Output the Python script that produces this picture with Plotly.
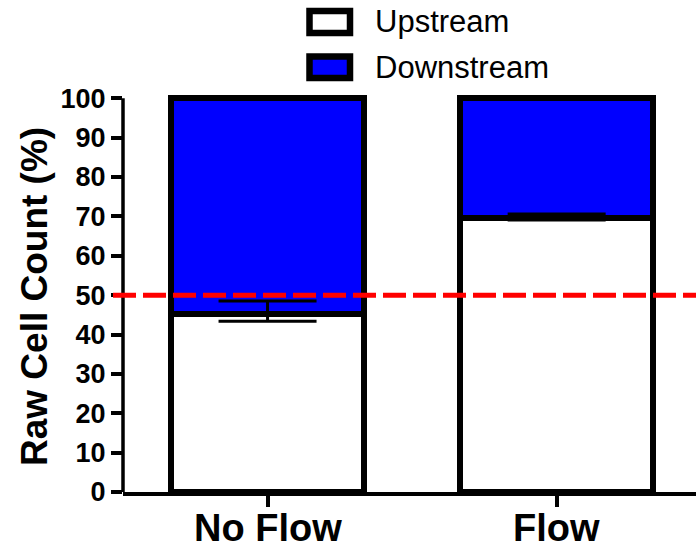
import plotly.graph_objects as go

# Data
conditions = ["No Flow", "Flow"]
upstream = [45.3, 69.5]
downstream = [54.7, 30.5]
upstream_err_plus = [3.2, 1.1]
upstream_err_minus = [1.9, 0.4]
reference_level = 50
y_ticks = [0, 10, 20, 30, 40, 50, 60, 70, 80, 90, 100]

W, H = 696, 553
ML, MR, MT, MB = 123, 0, 92, 61
PW, PH = W - ML - MR, H - MT - MB
FONT = "Liberation Sans, Arial, sans-serif"


def px_x(p):
    return (p - ML) / PW


def px_y(p):
    return (H - MB - p) / PH


fig = go.Figure()

fig.add_trace(go.Bar(
    x=conditions, y=upstream, name="Upstream",
    marker=dict(color="white", line=dict(color="black", width=6)),
    width=0.667,
    showlegend=False,
))
fig.add_trace(go.Bar(
    x=conditions, y=downstream, name="Downstream",
    marker=dict(color="#0000FF", line=dict(color="black", width=6)),
    width=0.667,
    showlegend=False,
))

# Upstream error bars drawn on top of the stacked downstream segment
fig.add_trace(go.Scatter(
    x=conditions, y=upstream, mode="markers",
    marker=dict(size=0.1, color="rgba(0,0,0,0)"),
    error_y=dict(type="data", symmetric=False,
                 array=upstream_err_plus, arrayminus=upstream_err_minus,
                 color="black", thickness=3, width=49),
    showlegend=False, hoverinfo="skip",
))

shapes = [
    # y axis line (0 to 100)
    dict(type="line", xref="paper", yref="y", x0=0, x1=0,
         y0=0, y1=y_ticks[-1], line=dict(color="black", width=3.5), layer="above"),
    # 50% reference line
    dict(type="line", xref="paper", yref="y", x0=px_x(113), x1=1,
         y0=reference_level, y1=reference_level,
         line=dict(color="#FF0000", width=5, dash="23px,7px"), layer="above"),
    # legend swatches
    dict(type="rect", xref="paper", yref="paper",
         x0=px_x(309.5), x1=px_x(350), y0=px_y(11), y1=px_y(33),
         fillcolor="white", line=dict(color="black", width=6.5)),
    dict(type="rect", xref="paper", yref="paper",
         x0=px_x(309.5), x1=px_x(350), y0=px_y(56.5), y1=px_y(78),
         fillcolor="#0000FF", line=dict(color="black", width=6.5)),
]

annotations = [
    dict(text="Upstream", xref="paper", yref="paper", x=px_x(373), y=px_y(22),
         xanchor="left", yanchor="middle", showarrow=False,
         font=dict(family=FONT, size=31, color="black")),
    dict(text="Downstream", xref="paper", yref="paper", x=px_x(373), y=px_y(67),
         xanchor="left", yanchor="middle", showarrow=False,
         font=dict(family=FONT, size=31, color="black")),
    dict(text="<b>Raw Cell Count (%)</b>", xref="paper", yref="paper",
         x=px_x(34), y=px_y(297), xanchor="center", yanchor="middle",
         textangle=-90, showarrow=False,
         font=dict(family=FONT, size=37, color="black")),
]

# category labels under the x axis
for c in conditions:
    annotations.append(dict(
        text=f"<b>{c}</b>", xref="x", yref="paper", x=c, y=px_y(528),
        xanchor="center", yanchor="middle", showarrow=False,
        font=dict(family=FONT, size=38, color="black")))

fig.update_layout(
    width=W, height=H,
    margin=dict(l=ML, r=MR, t=MT, b=MB, pad=0, autoexpand=False),
    barmode="stack",
    plot_bgcolor="white", paper_bgcolor="white",
    shapes=shapes, annotations=annotations,
    font=dict(family=FONT, color="black"),
    xaxis=dict(
        range=[-0.5, 1.482], showline=True, linecolor="black", linewidth=3.5,
        ticks="outside", ticklen=11, tickwidth=3.5, tickcolor="black",
        showticklabels=False, automargin=False,
        showgrid=False, zeroline=False, fixedrange=True,
    ),
    yaxis=dict(
        range=[0, 101.6], showline=False,
        tickvals=y_ticks, ticktext=[str(v) for v in y_ticks],
        ticks="outside", ticklen=11, tickwidth=3.5, tickcolor="black",
        tickfont=dict(family=FONT, size=27, color="black", weight="bold"),
        showgrid=False, zeroline=False, fixedrange=True, automargin=False,
    ),
)

fig.write_html("out.html")
